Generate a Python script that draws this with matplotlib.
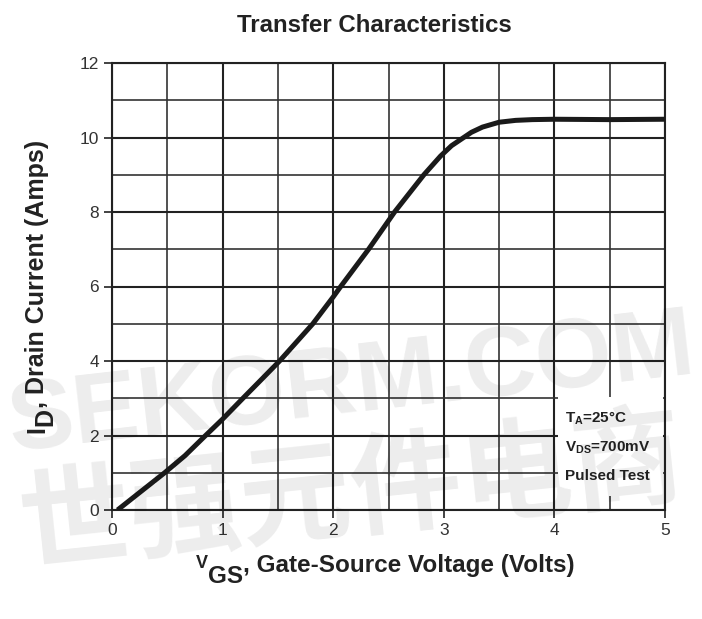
import matplotlib
matplotlib.use("Agg")
import matplotlib.pyplot as plt
from matplotlib.patches import Rectangle
from matplotlib.ticker import MultipleLocator
from matplotlib.transforms import IdentityTransform

plt.rcParams['font.family'] = ['Liberation Sans', 'DejaVu Sans']

# curve
vgs = [0.05, 0.25, 0.476, 0.66, 0.846, 1.0, 1.184, 1.35, 1.515, 1.816, 2.0,
       2.063, 2.32, 2.555, 2.82, 2.97, 3.07, 3.18, 3.25, 3.35, 3.5, 3.65,
       3.8, 4.0, 4.5, 5.0]
id_amps = [0.0, 0.47, 1.0, 1.46, 2.0, 2.44, 3.0, 3.5, 4.0, 5.0, 5.72,
           5.98, 7.0, 8.0, 9.0, 9.5, 9.78, 10.0, 10.14, 10.28, 10.41, 10.46,
           10.48, 10.49, 10.48, 10.49]

x_ticks = [0, 1, 2, 3, 4, 5]
y_ticks = [0, 2, 4, 6, 8, 10, 12]
notes = [r'$\mathbf{T_A}$=25°C', r'$\mathbf{V_{DS}}$=700mV', 'Pulsed Test']

plt.rcParams['mathtext.fontset'] = 'custom'
plt.rcParams['mathtext.rm'] = 'Liberation Sans'
plt.rcParams['mathtext.bf'] = 'Liberation Sans:bold'

fig = plt.figure(figsize=(7.02, 6.19), dpi=100)
ax = fig.add_axes([112 / 702, 109 / 619, 553 / 702, 447 / 619])

ax.set_xlim(0, 5)
ax.set_ylim(0, 12)
ax.set_xticks(x_ticks)
ax.set_yticks(y_ticks)
ax.xaxis.set_minor_locator(MultipleLocator(0.5))
ax.yaxis.set_minor_locator(MultipleLocator(1))
ax.grid(which='major', color='#222222', lw=1.5)
ax.grid(which='minor', color='#333333', lw=1.2)
ax.tick_params(which='major', length=6, width=1.2, color='#222222',
               labelsize=12.5, labelcolor='#333333', pad=3.5)
ax.tick_params(which='minor', length=0)
for s in ax.spines.values():
    s.set_linewidth(1.5)
    s.set_color('#222222')
ax.set_axisbelow(True)

ax.plot(vgs, id_amps, color='#1a1a1a', lw=3.6, solid_joinstyle='round',
        solid_capstyle='butt', zorder=3)

# white box behind the test conditions
ax.add_patch(Rectangle((4.03, 0.38), 0.95, 2.65, facecolor='white',
                       edgecolor='none', zorder=2.5))
for txt, yy in zip(notes, [2.47, 1.66, 0.91]):
    ax.text(4.1, yy, txt, fontsize=11, fontweight='bold', color='#222222',
            va='center', ha='left', zorder=4)

fig.text(374 / 702, (619 - 32) / 619, 'Transfer Characteristics',
         ha='center', va='baseline', fontsize=17.3, fontweight='bold',
         color='#222222')

renderer = fig.canvas.get_renderer()


def label_pieces(pieces, x0, y0, vertical=False):
    # pieces: (text, size, shift in px below the baseline)
    pos = 0
    for s, size, shift in pieces:
        if vertical:
            t = fig.text(x0 + shift, y0 + pos, s, transform=IdentityTransform(),
                         rotation=90, rotation_mode='anchor', ha='left',
                         va='baseline', fontsize=size, fontweight='bold',
                         color='#222222')
            pos += t.get_window_extent(renderer).height
        else:
            t = fig.text(x0 + pos, y0 - shift, s, transform=IdentityTransform(),
                         ha='left', va='baseline', fontsize=size,
                         fontweight='bold', color='#222222')
            pos += t.get_window_extent(renderer).width


# x label: small V, full-size lowered GS
label_pieces([('V', 13, -4), ('GS', 17.5, 11),
              (', Gate-Source Voltage (Volts)', 17.5, 0)],
             196, 619 - 571.7)
# y label
label_pieces([('I', 18, 0), ('D', 18, 8), (', Drain Current (Amps)', 18, 0)],
             44, 619 - 433, vertical=True)

# faint site watermark
fig.text(0.5, 0.375, 'SEKORM.COM', ha='center', va='center', rotation=6.5,
         fontsize=71, fontweight='bold', color='black', alpha=0.075, zorder=10)
fig.text(0.5, 0.2, '世强元件电商', ha='center', va='center', rotation=6,
         fontsize=80, fontweight='bold', color='black', alpha=0.075, zorder=10,
         family=['Noto Sans CJK SC', 'DejaVu Sans'])

fig.savefig('out.png', dpi=100)
